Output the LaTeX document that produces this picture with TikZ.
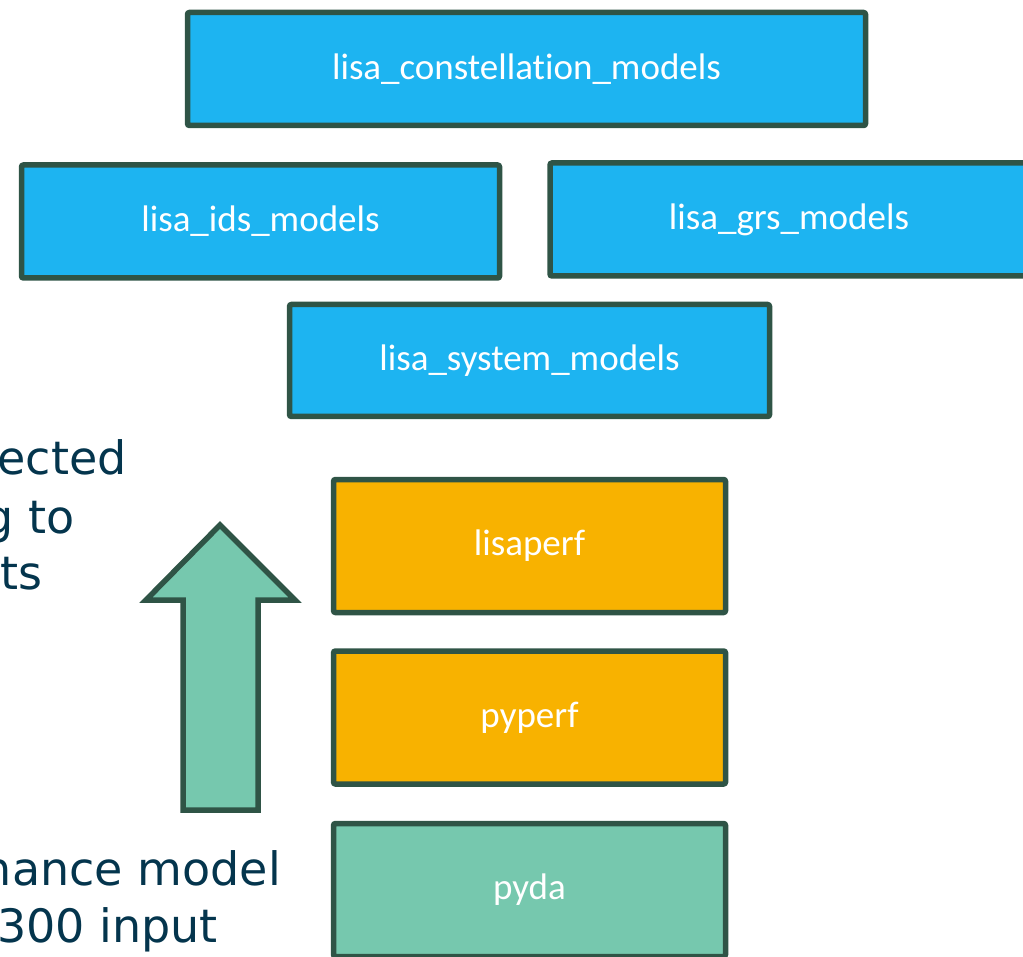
\documentclass[tikz,border=0pt]{standalone}
\usepackage{fontspec}
\setmainfont{Carlito}[Ligatures=NoCommon]
\newfontfamily\notefont{DejaVu Sans}
\definecolor{edge}{HTML}{2F5446}
\definecolor{skyfill}{HTML}{1DB4F1}
\definecolor{amberfill}{HTML}{F8B200}
\definecolor{mintfill}{HTML}{76C8AE}
\definecolor{notecol}{HTML}{04354D}
\tikzset{
  pkg/.style={draw=edge, line width=5.5pt, rounded corners=2pt, text=white,
    font=\fontsize{37}{40}\selectfont, inner sep=0pt},
  wide/.style={minimum width=478pt, minimum height=113pt},
  sky/.style={pkg, fill=skyfill},
  amber/.style={pkg, fill=amberfill, minimum width=392pt, minimum height=133pt},
  mint/.style={pkg, fill=mintfill, minimum width=392pt, minimum height=133pt},
  note/.style={text=notecol, font=\notefont\fontsize{46}{57}\selectfont,
    inner sep=0pt, anchor=base east},
}
\begin{document}
\begin{tikzpicture}[x=1pt, y={(0pt,-1pt)}]
\useasboundingbox (0,0) rectangle (1023,957);
\begin{scope}
\clip (0,0) rectangle (1023,957);

% package layers
\node[sky, minimum width=678pt, minimum height=113pt] (const) at (526.5,69) {lisa\_constellation\_models};
\node[sky, wide] (ids) at (260.5,221.5) {lisa\_ids\_models};
\node[sky, wide] (grs) at (789,219.5) {lisa\_grs\_models};
\node[sky, minimum width=480pt, minimum height=112pt] (sys) at (529.5,360.5) {lisa\_system\_models};
\node[amber] (lisaperf) at (529.5,546) {lisaperf};
\node[amber] (pyperf) at (529.5,717.5) {pyperf};
\node[mint] (pyda) at (529.5,890) {pyda};

% upward arrow
\draw[edge, line width=5.5pt, fill=mintfill]
  (220,525) -- (146,600) -- (183,600) -- (183,810) -- (258,810)
  -- (258,600) -- (295,600) -- cycle;

% side notes
\node[note] (n1) at (127,475) {ected};
\node[note] (n2) at (75,533) {g to};
\node[note] (n3) at (43,589) {ts};
\node[note] (n4) at (281,885) {hance model};
\node[note] (n5) at (218,942) {300 input};
\end{scope}
\end{tikzpicture}
\end{document}
